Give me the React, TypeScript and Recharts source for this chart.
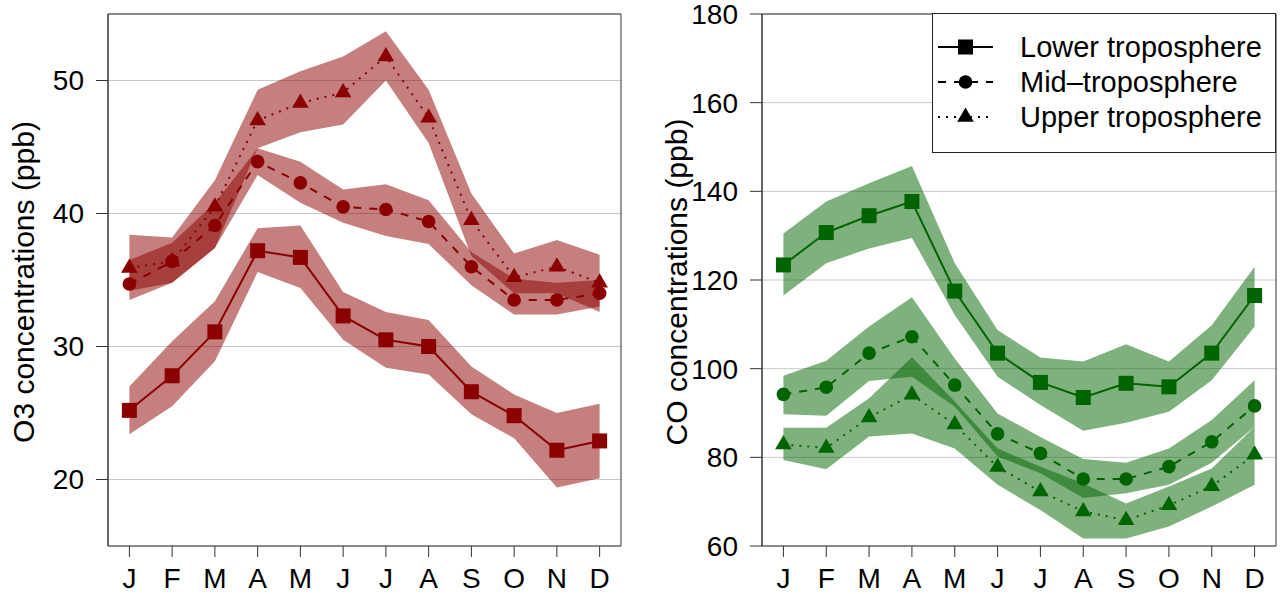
import React from "react";
import { ComposedChart, Area, Line, XAxis, YAxis, CartesianGrid, ReferenceArea } from "recharts";

const months = ["J", "F", "M", "A", "M", "J", "J", "A", "S", "O", "N", "D"];
const monthIdx = [1, 2, 3, 4, 5, 6, 7, 8, 9, 10, 11, 12];

// O3 (ppb)
const o3Lower = [25.2, 27.8, 31.1, 37.2, 36.7, 32.3, 30.5, 30.0, 26.6, 24.8, 22.2, 22.9];
const o3LowerLo = [23.4, 25.5, 28.9, 35.6, 34.4, 30.5, 28.4, 27.9, 24.9, 23.1, 19.4, 20.1];
const o3LowerHi = [27.0, 30.4, 33.4, 38.9, 39.1, 34.1, 32.6, 32.0, 28.5, 26.4, 25.0, 25.7];
const o3Mid = [34.7, 36.4, 39.1, 43.9, 42.3, 40.5, 40.3, 39.4, 36.0, 33.5, 33.5, 34.0];
const o3MidLo = [33.5, 34.8, 37.4, 42.9, 40.8, 39.3, 38.3, 37.7, 34.6, 32.4, 32.4, 33.0];
const o3MidHi = [36.5, 37.8, 40.8, 44.9, 43.9, 41.8, 42.2, 41.0, 37.1, 35.1, 34.8, 35.0];
const o3Upper = [35.9, 36.4, 40.5, 47.0, 48.3, 49.1, 51.8, 47.2, 39.5, 35.2, 36.0, 34.8];
const o3UpperLo = [34.2, 34.8, 37.4, 44.9, 46.1, 46.7, 50.0, 45.3, 36.8, 34.0, 34.0, 32.6];
const o3UpperHi = [38.4, 38.2, 42.5, 49.3, 50.7, 51.8, 53.7, 49.3, 41.5, 37.0, 38.0, 36.9];

// CO (ppb)
const coLower = [123.4, 130.7, 134.5, 137.7, 117.5, 103.5, 96.9, 93.5, 96.7, 95.9, 103.5, 116.5];
const coLowerLo = [116.5, 123.8, 127.1, 129.5, 112.1, 98.2, 91.8, 86.0, 87.8, 90.3, 97.4, 109.5];
const coLowerHi = [130.5, 137.7, 141.8, 145.7, 123.8, 108.7, 102.5, 101.6, 105.5, 101.6, 109.8, 123.0];
const coMid = [94.2, 95.8, 103.5, 107.2, 96.3, 85.3, 80.9, 75.1, 75.1, 77.9, 83.5, 91.6];
const coMidLo = [89.7, 89.4, 97.2, 98.2, 91.4, 80.2, 76.4, 70.8, 71.9, 73.8, 78.8, 86.9];
const coMidHi = [98.4, 101.8, 109.5, 116.1, 102.3, 89.9, 84.6, 79.6, 78.8, 82.0, 88.4, 97.4];
const coUpper = [82.9, 82.1, 89.0, 94.1, 87.4, 77.8, 72.3, 67.8, 65.8, 69.2, 73.5, 80.6];
const coUpperLo = [79.4, 77.3, 84.7, 85.4, 82.0, 73.8, 68.1, 61.7, 61.7, 64.4, 68.9, 73.8];
const coUpperHi = [86.7, 86.7, 93.3, 102.6, 92.6, 82.0, 77.9, 74.1, 69.6, 73.4, 77.5, 86.9];

const o3Ticks = [20, 30, 40, 50];
const coTicks = [60, 80, 100, 120, 140, 160, 180];

const seriesNames = ["Lower troposphere", "Mid\u2013troposphere", "Upper troposphere"];
const shapes = ["square", "circle", "triangle"];
const dashes = ["0", "8 8", "2 6"];

const FONT = "'Liberation Sans', Arial, Helvetica, sans-serif";

function buildRows(v: number[][], lo: number[][], hi: number[][]) {
    return monthIdx.map((m, i) => ({
        m,
        lower: v[0][i], mid: v[1][i], upper: v[2][i],
        lowerBand: [lo[0][i], hi[0][i]],
        midBand: [lo[1][i], hi[1][i]],
        upperBand: [lo[2][i], hi[2][i]],
    }));
}

const o3Rows = buildRows([o3Lower, o3Mid, o3Upper], [o3LowerLo, o3MidLo, o3UpperLo], [o3LowerHi, o3MidHi, o3UpperHi]);
const coRows = buildRows([coLower, coMid, coUpper], [coLowerLo, coMidLo, coUpperLo], [coLowerHi, coMidHi, coUpperHi]);

function Marker({ shape, cx, cy, color }: any) {
    if (cx == null || cy == null) return null;
    if (shape === "square") return <rect x={cx - 7.5} y={cy - 7.5} width={15} height={15} fill={color} />;
    if (shape === "circle") return <circle cx={cx} cy={cy} r={6.8} fill={color} />;
    const r = 9.5;
    return <polygon points={`${cx},${cy - r} ${cx + 8.3},${cy + r / 2} ${cx - 8.3},${cy + r / 2}`} fill={color} />;
}

function AxisTitle({ viewBox, text, bx }: any) {
    const cy = viewBox.y + viewBox.height / 2 + 2;
    return (
        <text x={bx} y={cy} transform={`rotate(-90, ${bx}, ${cy})`} textAnchor="middle" fontSize={30} fontFamily={FONT} fill="#000">
            {text}
        </text>
    );
}

function Panel({ rows, color, domain, ticks, title, width, yWidth, right, titleX }: any) {
    const keys = ["lower", "mid", "upper"];
    return (
        <ComposedChart width={width} height={594} data={rows} margin={{ top: 14, right, bottom: 0, left: 0 }}>
            <CartesianGrid horizontal vertical={false} stroke="#c8c8c8" />
            <XAxis dataKey="m" type="number" domain={[0.5, 12.5]} ticks={monthIdx} interval={0}
                tickFormatter={(v: number) => months[v - 1]} height={48} tickSize={11} tickMargin={11}
                axisLine={false} tickLine={{ stroke: "#333" }}
                tick={{ fontSize: 28, fill: "#000", fontFamily: FONT }} />
            <YAxis type="number" domain={domain} ticks={ticks} interval={0} width={yWidth} tickSize={12} tickMargin={12}
                axisLine={{ stroke: "#333" }} tickLine={{ stroke: "#333" }}
                tick={{ fontSize: 28, fill: "#000", fontFamily: FONT }}
                label={<AxisTitle text={title} bx={titleX} />} />
            {keys.map((k) => (
                <Area key={k + "Band"} type="linear" dataKey={k + "Band"} stroke="none" fill={color} fillOpacity={0.5} isAnimationActive={false} activeDot={false} />
            ))}
            {keys.map((k, i) => (
                <Line key={k} type="linear" dataKey={k} stroke={color} strokeWidth={2} strokeDasharray={dashes[i]}
                    isAnimationActive={false} activeDot={false}
                    dot={(p: any) => <Marker key={k + p.index} shape={shapes[i]} cx={p.cx} cy={p.cy} color={color} />} />
            ))}
            <ReferenceArea x1={0.5} x2={12.5} y1={domain[0]} y2={domain[1]} fill="none" stroke="#333" strokeWidth={1} ifOverflow="visible" />
        </ComposedChart>
    );
}

function LegendBox() {
    return (
        <svg width={344} height={140} style={{ position: "absolute", left: 932, top: 13 }}>
            <rect x={0.5} y={0.5} width={343} height={139} fill="#fff" stroke="#222" />
            {seriesNames.map((name, i) => {
                const y = 34 + i * 35;
                return (
                    <g key={name}>
                        <line x1={6} x2={61} y1={y} y2={y} stroke="#000" strokeWidth={2} strokeDasharray={dashes[i]} />
                        <Marker shape={shapes[i]} cx={33.5} cy={y} color="#000" />
                        <text x={88} y={y} dy="0.35em" fontSize={29} fontFamily={FONT} fill="#000">{name}</text>
                    </g>
                );
            })}
        </svg>
    );
}

export default function App() {
    return (
        <div style={{ position: "absolute", left: 0, top: 0, width: 1284, height: 594, background: "#fff" }}>
            <div style={{ position: "absolute", left: 0, top: 0 }}>
                <Panel rows={o3Rows} color="#8B0000" domain={[15, 55]} ticks={o3Ticks} title="O3 concentrations (ppb)"
                    width={640} yWidth={108} right={19} titleX={33.5} />
            </div>
            <div style={{ position: "absolute", left: 640, top: 0 }}>
                <Panel rows={coRows} color="#006400" domain={[60, 180]} ticks={coTicks} title="CO concentrations (ppb)"
                    width={644} yWidth={122} right={8} titleX={47} />
            </div>
            <LegendBox />
        </div>
    );
}
